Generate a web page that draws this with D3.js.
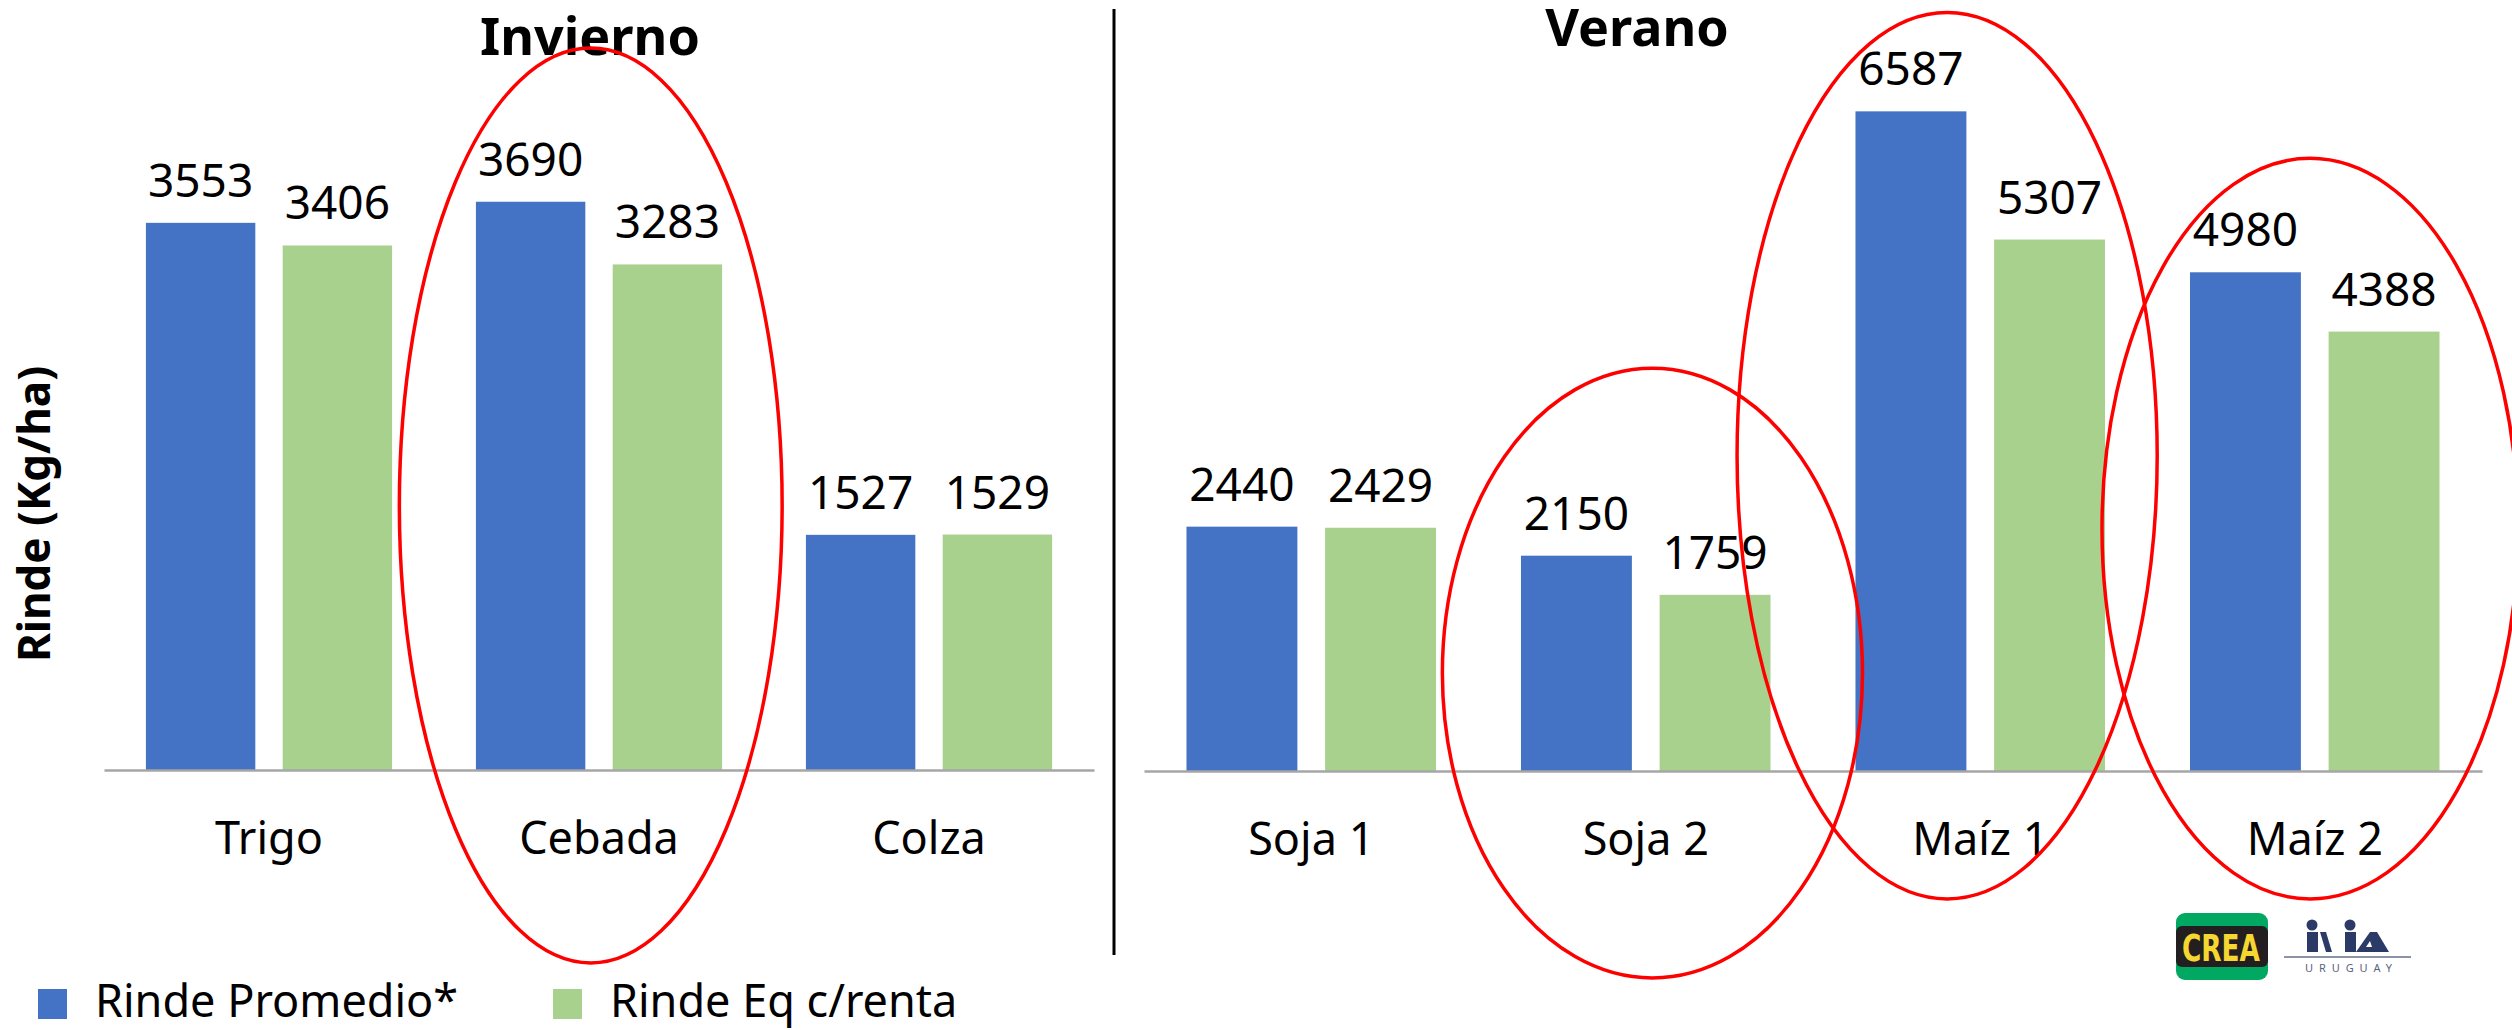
<!DOCTYPE html>
<html>
<head>
<meta charset="utf-8">
<script src="https://cdn.jsdelivr.net/npm/d3@7"></script>
<style>
  body { margin: 0; background: #fff; }
  svg { display: block; font-family: "Noto Sans", sans-serif; }
</style>
</head>
<body>
<svg id="chart" width="2512" height="1030"></svg>
<script>
// data
var seriesNames = ["Rinde Promedio*", "Rinde Eq c/renta"];
var invCats = ["Trigo", "Cebada", "Colza"];
var invPromedio = [3553, 3690, 1527];
var invEq = [3406, 3283, 1529];
var verCats = ["Soja 1", "Soja 2", "Maíz 1", "Maíz 2"];
var verPromedio = [2440, 2150, 6587, 4980];
var verEq = [2429, 1759, 5307, 4388];

var colors = ["#4472C4", "#A9D18E"];

var svg = d3.select("#chart");
svg.append("rect").attr("width", 2512).attr("height", 1030).attr("fill", "#fff");

function panel(cats, prom, eq, xRange, yMax, yRange, title, titleX, titleY, circles) {
    var rows = cats.map(function (c, i) { return { cat: c, vals: [prom[i], eq[i]] }; });

    var x0 = d3.scaleBand().domain(cats).range(xRange);
    var bw = x0.bandwidth();
    var x1 = d3.scaleBand().domain(seriesNames)
        .range([bw * 0.127, bw * 0.873])
        .paddingInner(0.2);
    var y = d3.scaleLinear().domain([0, yMax]).range(yRange);

    var g = svg.append("g");

    var groups = g.selectAll("g.cat")
        .data(rows)
        .enter()
        .append("g")
        .attr("class", "cat")
        .attr("transform", function (d) { return "translate(" + x0(d.cat) + ",0)"; });

    groups.selectAll("rect")
        .data(function (d) { return d.vals.map(function (v, j) { return { s: seriesNames[j], v: v, j: j }; }); })
        .enter()
        .append("rect")
        .attr("x", function (d) { return x1(d.s); })
        .attr("y", function (d) { return y(d.v); })
        .attr("width", x1.bandwidth())
        .attr("height", function (d) { return y(0) - y(d.v); })
        .attr("fill", function (d) { return colors[d.j]; });

    groups.selectAll("text.val")
        .data(function (d) { return d.vals.map(function (v, j) { return { s: seriesNames[j], v: v }; }); })
        .enter()
        .append("text")
        .attr("class", "val")
        .attr("x", function (d) { return x1(d.s) + x1.bandwidth() / 2; })
        .attr("y", function (d) { return y(d.v) - 26; })
        .attr("text-anchor", "middle")
        .attr("font-size", 46)
        .attr("fill", "#000")
        .text(function (d) { return d.v; });

    // baseline + category labels
    var xAxis = d3.axisBottom(x0).tickSize(0).tickPadding(50);
    var ax = g.append("g")
        .attr("transform", "translate(0," + y(0) + ")")
        .call(xAxis);
    ax.select(".domain").attr("stroke", "#A6A6A6").attr("stroke-width", 2.5);
    ax.selectAll("text")
        .attr("font-size", 45)
        .attr("font-family", "Noto Sans, sans-serif")
        .attr("fill", "#000")
        .attr("dy", 0)
        .attr("y", 84);

    g.append("text")
        .attr("x", titleX)
        .attr("y", titleY)
        .attr("text-anchor", "middle")
        .attr("font-size", 52)
        .attr("font-weight", "bold")
        .text(title);

    // red ellipses
    circles.forEach(function (c) {
        var top = y(c.top), bot = y(c.bottom);
        g.append("ellipse")
            .attr("cx", x0(c.cat) + bw / 2 + c.dx * bw)
            .attr("cy", (top + bot) / 2)
            .attr("rx", c.rx * bw)
            .attr("ry", (bot - top) / 2)
            .attr("fill", "none")
            .attr("stroke", "#FF0000")
            .attr("stroke-width", 3.5);
    });
}

panel(invCats, invPromedio, invEq, [104, 1094], 4000, [770, 154], "Invierno", 590, 55,
    [{ cat: "Cebada", dx: -0.025, rx: 0.58, top: 4688, bottom: -1253 }]);

panel(verCats, verPromedio, verEq, [1144, 2482], 7000, [771, 70], "Verano", 1637, 46,
    [{ cat: "Soja 2", dx: 0.02, rx: 0.628, top: 4022, bottom: -2066 },
     { cat: "Maíz 1", dx: -0.099, rx: 0.628, top: 7575, bottom: -1277 },
     { cat: "Maíz 2", dx: -0.014, rx: 0.622, top: 6118, bottom: -1277 }]);

// divider
svg.append("line")
    .attr("x1", 1114).attr("x2", 1114)
    .attr("y1", 9).attr("y2", 955)
    .attr("stroke", "#000").attr("stroke-width", 3);

// y axis title
svg.append("text")
    .attr("transform", "translate(50,514) rotate(-90)")
    .attr("text-anchor", "middle")
    .attr("font-size", 44)
    .attr("font-weight", "bold")
    .text("Rinde (Kg/ha)");

// legend
var legX = [38, 553];
var leg = svg.append("g");
seriesNames.forEach(function (s, i) {
    leg.append("rect")
        .attr("x", legX[i]).attr("y", 989)
        .attr("width", 29).attr("height", 30)
        .attr("fill", colors[i]);
    leg.append("text")
        .attr("x", legX[i] + 57).attr("y", 1017)
        .attr("font-size", 45)
        .text(s);
});

// logos
var logo = svg.append("g");
logo.append("rect").attr("x", 2176).attr("y", 913).attr("width", 92).attr("height", 67)
    .attr("rx", 9).attr("fill", "#00A862");
logo.append("rect").attr("x", 2176).attr("y", 926).attr("width", 92).attr("height", 41)
    .attr("rx", 6).attr("fill", "#231F20");
logo.append("text").attr("x", 2182).attr("y", 961)
    .attr("textLength", 78).attr("lengthAdjust", "spacingAndGlyphs")
    .attr("font-size", 38).attr("font-weight", "bold")
    .attr("font-family", "DejaVu Sans Condensed, sans-serif")
    .attr("fill", "#F6D731").text("CREA");

var navy = "#2B3A67";
logo.append("circle").attr("cx", 2312).attr("cy", 925).attr("r", 5.5).attr("fill", navy);
logo.append("rect").attr("x", 2307).attr("y", 932).attr("width", 11).attr("height", 20).attr("fill", navy);
logo.append("path").attr("d", "M2320,932 L2326,932 L2332,952 L2326,952 Z").attr("fill", navy);
logo.append("circle").attr("cx", 2350).attr("cy", 925).attr("r", 5.5).attr("fill", navy);
logo.append("rect").attr("x", 2345).attr("y", 932).attr("width", 11).attr("height", 20).attr("fill", navy);
logo.append("path").attr("d", "M2356,952 L2370,932 L2377,932 L2389,952 Z").attr("fill", navy);
logo.append("path").attr("d", "M2366,947 L2370,941 L2372,947 Z").attr("fill", "#fff");
logo.append("line").attr("x1", 2284).attr("x2", 2411).attr("y1", 957).attr("y2", 957)
    .attr("stroke", "#8A93A8").attr("stroke-width", 2);
logo.append("text").attr("x", 2305).attr("y", 972)
    .attr("textLength", 87).attr("lengthAdjust", "spacing")
    .attr("font-size", 11).attr("fill", "#5A6480").text("URUGUAY");
</script>
</body>
</html>
